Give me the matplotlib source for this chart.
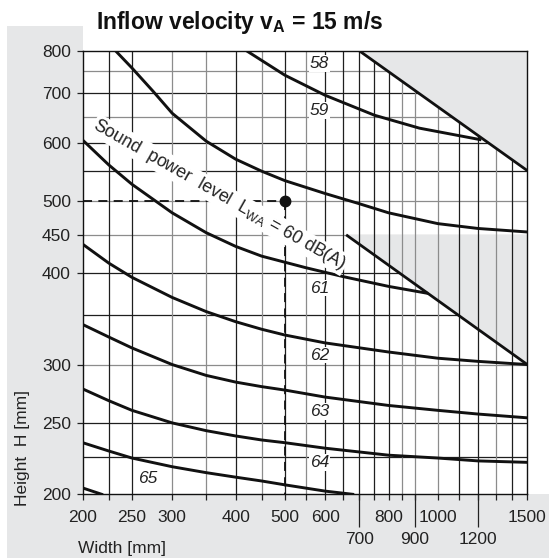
import matplotlib
matplotlib.use("Agg")
import matplotlib.pyplot as plt
from matplotlib.patches import Rectangle, Polygon
from matplotlib.ticker import NullFormatter, NullLocator

plt.rcParams['font.family'] = ['Liberation Sans', 'DejaVu Sans']
plt.rcParams['mathtext.fontset'] = 'custom'
plt.rcParams['mathtext.rm'] = 'Liberation Sans'
plt.rcParams['mathtext.it'] = 'Liberation Sans:italic'
plt.rcParams['mathtext.bf'] = 'Liberation Sans:bold'

# iso-lines of sound power level, width [mm] vs height [mm]
w59 = [420, 500, 600, 750, 920, 1210]
h59 = [800, 741, 696, 654, 628, 606]
w60 = [232, 250, 275, 300, 350, 400, 450, 500, 600, 700, 800, 1000, 1200, 1500]
h60 = [800, 758, 705, 658, 603, 570, 549, 533, 512, 496, 482, 466, 459, 454]
w61 = [200, 225, 250, 300, 350, 400, 450, 550, 650, 800, 951]
h61 = [605, 560, 527, 482, 453, 434, 421, 406, 395, 383, 375]
w62 = [200, 225, 250, 300, 350, 400, 450, 500, 600, 800, 1000, 1200, 1500]
h62 = [437, 412, 394, 370, 354, 343, 335, 329, 321, 312, 306, 303, 300]
w63 = [200, 225, 250, 300, 350, 400, 450, 500, 600, 800, 1000, 1200, 1500]
h63 = [340, 327, 316, 300, 290, 284, 280, 277, 271, 264, 260, 257, 254]
w64 = [200, 225, 250, 300, 350, 400, 450, 500, 600, 800, 1000, 1200, 1500]
h64 = [278, 268, 260, 250, 244, 240, 237, 235, 231, 226, 224, 222, 221]
w65 = [200, 225, 250, 300, 350, 400, 450, 500, 600, 680]
h65 = [235, 229, 224, 218, 214, 211, 208.5, 206, 202, 200]
w66 = [200, 218]
h66 = [204, 200]
curves = [(w59, h59), (w60, h60), (w61, h61), (w62, h62),
          (w63, h63), (w64, h64), (w65, h65), (w66, h66)]

label_text = ["58", "59", "61", "62", "63", "64", "65"]
label_w = [584, 584, 584, 584, 584, 584, 269]
label_h = [769, 664, 381, 309, 259, 221, 210]

# shaded limit zones (corner points)
upper_w = [700, 1500, 1500]
upper_h = [800, 800, 550]
lower_w = [660, 1500, 1500]
lower_h = [450, 450, 300]

# operating point example
op_w = 500
op_h = 500

x_ticks = [200, 250, 300, 400, 500, 600, 800, 1000, 1500]
x_ticks2 = [700, 900, 1200]
y_ticks = [200, 250, 300, 400, 450, 500, 600, 700, 800]
grid_x_dark = [225, 250, 400, 500, 600, 650, 700, 750, 800, 1100, 1200, 1400]
grid_x_gray = [300, 350, 450, 550, 850, 900, 1000, 1300]
grid_y_dark = [225, 250, 350, 400, 550, 600, 700]
grid_y_gray = [300, 450, 500, 650, 750]

W, H = 549, 560
fig = plt.figure(figsize=(W / 100, H / 100), dpi=100)

# light grey L-shaped background behind the axis labels
bg = '#e6e7e8'
fig.patches.append(Rectangle((7 / W, 2 / H), (83 - 7) / W, (558 - 26) / H,
                             transform=fig.transFigure, facecolor=bg, edgecolor='none', zorder=-5))
fig.patches.append(Rectangle((7 / W, 2 / H), (W - 7) / W, (558 - 494) / H,
                             transform=fig.transFigure, facecolor=bg, edgecolor='none', zorder=-5))

ax = fig.add_axes([82.7 / W, 1 - 494.3 / H, (527.3 - 82.7) / W, (494.3 - 50.7) / H])
ax.set_facecolor('white')
ax.set_xscale('log')
ax.set_yscale('log')
ax.set_xlim(200, 1500)
ax.set_ylim(200, 800)

dark = '#1e1e1e'
gray = '#8c8c8c'
for v in grid_y_dark:
    ax.axhline(v, color=dark, lw=0.9, zorder=1)
for v in grid_y_gray:
    ax.axhline(v, color=gray, lw=0.9, zorder=1)

ax.add_patch(Polygon(list(zip(lower_w, lower_h)), closed=True, facecolor=bg,
                     edgecolor='none', zorder=1.5))

for v in grid_x_dark:
    ax.axvline(v, color=dark, lw=0.9, zorder=2)
for v in grid_x_gray:
    ax.axvline(v, color=gray, lw=0.9, zorder=2)

ax.add_patch(Polygon(list(zip(upper_w, upper_h)), closed=True, facecolor=bg,
                     edgecolor='none', zorder=2.5))

# limit lines
ax.plot(upper_w[::2], upper_h[::2], color='#111111', lw=2.0, zorder=4, solid_capstyle='butt')
ax.plot(lower_w[::2], lower_h[::2], color='#111111', lw=2.0, zorder=4, solid_capstyle='butt')

for w, h in curves:
    ax.plot(w, h, color='#111111', lw=2.1, zorder=4, solid_joinstyle='round')

# dashed reading lines and operating point
ax.plot([200, op_w], [op_h, op_h], color='#111111', lw=1.3, ls=(0, (5, 3.5)), zorder=3)
ax.plot([op_w, op_w], [op_h, 200], color='#111111', lw=1.3, ls=(0, (5, 3.5)), zorder=3)
ax.plot([op_w], [op_h], 'o', color='#111111', markersize=7.5, zorder=6)

for s, x, y in zip(label_text, label_w, label_h):
    ax.text(x, y, s, ha='center', va='center', fontsize=12.5, style='italic',
            color='#222222', zorder=5,
            bbox=dict(facecolor='white', edgecolor='none', pad=0.6))

ax.text(372, 510, r"Sound  power  level  L$_{\mathrm{WA}}$ = 60 dB(A)", rotation=-29.5,
        rotation_mode='anchor', ha='center', va='center', fontsize=12.8,
        color='#222222', zorder=5,
        bbox=dict(facecolor='white', edgecolor='none', pad=0.8))

for sp in ax.spines.values():
    sp.set_color('#111111')
    sp.set_linewidth(1.0)
    sp.set_zorder(6)

ax.set_xticks(x_ticks, labels=[str(v) for v in x_ticks])
ax.set_xticks(grid_x_dark + grid_x_gray, minor=True)
ax.xaxis.set_minor_formatter(NullFormatter())
ax.set_yticks(y_ticks, labels=[str(v) for v in y_ticks])
ax.yaxis.set_minor_locator(NullLocator())
ax.tick_params(axis='x', which='both', direction='out', length=4.5, width=0.9,
               color='#222222', pad=7, labelsize=12.5, labelcolor='#222222')
ax.tick_params(axis='y', which='major', direction='out', length=4.5, width=0.9,
               color='#222222', pad=4, labelsize=12.5, labelcolor='#222222')

sec = ax.secondary_xaxis('bottom')
sec.set_xticks(x_ticks2, labels=[str(v) for v in x_ticks2])
sec.xaxis.set_minor_locator(NullLocator())
sec.tick_params(axis='x', direction='out', length=24, width=0.9, color='#222222',
                pad=3, labelsize=12.5, labelcolor='#222222')
sec.spines['bottom'].set_visible(False)

fig.text(240 / W, 1 - 22 / H, r"Inflow velocity v$_{\mathbf{A}}$ = 15 m/s",
         ha='center', va='center', fontsize=16.5, fontweight='bold', color='#111111')
fig.text(23 / W, 1 - 448 / H, "Height  H [mm]", rotation=90, ha='center', va='center',
         fontsize=12.5, color='#222222')
fig.text(78 / W, 1 - 548 / H, "Width [mm]", ha='left', va='center',
         fontsize=12.5, color='#222222')

fig.savefig("out.png", dpi=100)
